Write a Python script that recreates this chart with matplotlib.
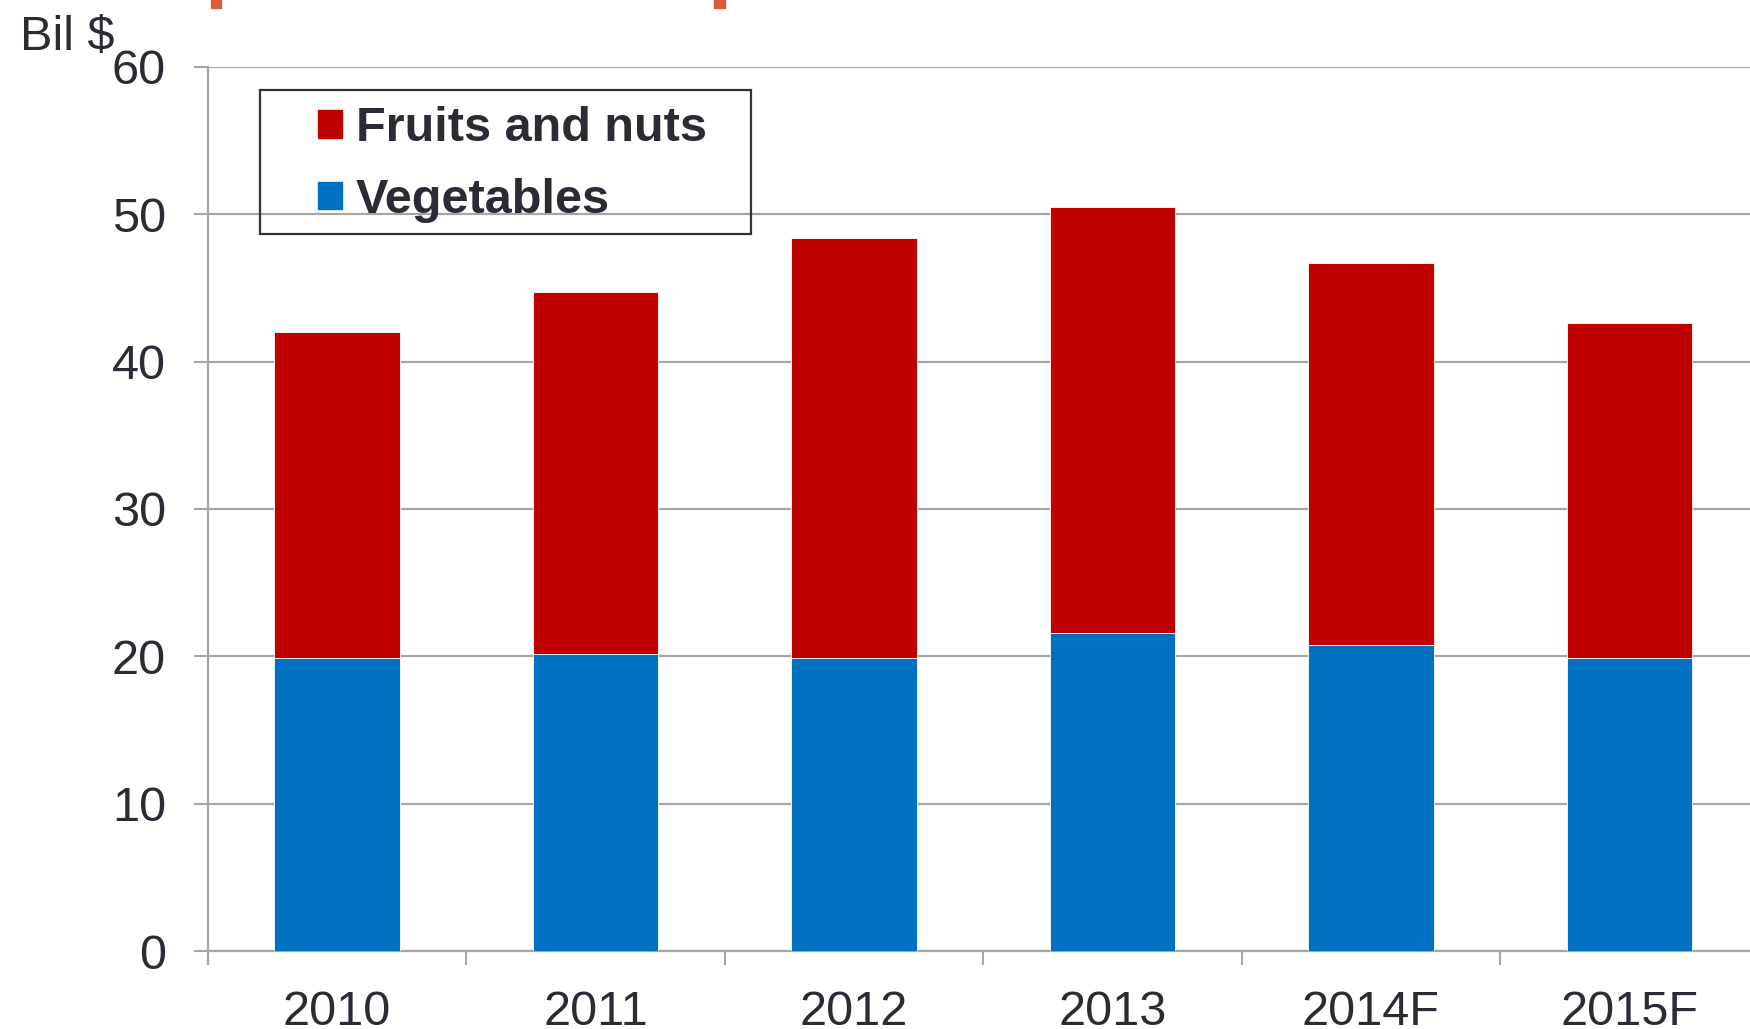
import matplotlib.pyplot as plt
from matplotlib.patches import Rectangle, Patch
import numpy as np

## data (billion $)
years = ['2010', '2011', '2012', '2013', '2014F', '2015F']
vegetables = [19.9, 20.15, 19.9, 21.6, 20.75, 19.9]
fruits_nuts = [22.1, 24.55, 28.5, 28.9, 25.95, 22.7]

red = '#C00000'
blue = '#0070C0'
txt = '#2B2B36'
grey = '#A6A6A6'

plt.rcParams['font.family'] = ['Liberation Sans', 'DejaVu Sans']

fig = plt.figure(figsize=(17.5, 10.29), dpi=100)
ax = fig.add_axes([0.1187, 0.0758, 0.8862, 0.8591])

x = np.arange(len(years))
ax.bar(x, vegetables, width=0.485, color=blue, edgecolor='white', lw=0.6, zorder=3)
ax.bar(x, fruits_nuts, width=0.485, bottom=vegetables, color=red, edgecolor='white', lw=0.6, zorder=3)

ax.set_xlim(-0.5, 5.5)
ax.set_ylim(0, 60)
ax.set_yticks(range(0, 61, 10))
ax.yaxis.grid(True, color=grey, lw=1.6, zorder=0)
ax.set_axisbelow(True)

ax.set_xticks(x)
ax.set_xticklabels(years)
ax.set_xticks(np.arange(-0.5, 6, 1), minor=True)
ax.tick_params(axis='x', which='major', length=0, pad=28, labelsize=35, labelcolor=txt)
ax.tick_params(axis='x', which='minor', length=10, width=1.5, color=grey, direction='out')
ax.tick_params(axis='y', length=10, width=1.5, color=grey, pad=20, labelsize=35, labelcolor=txt)

for s in ['top', 'right']:
    ax.spines[s].set_visible(False)
for s in ['left', 'bottom']:
    ax.spines[s].set_color(grey)
    ax.spines[s].set_linewidth(1.6)

## legend, frame drawn separately
fig.patches.append(Rectangle((260/1750, 1-234/1029), 491/1750, 144/1029,
                             transform=fig.transFigure, fill=False,
                             edgecolor='#333333', lw=1.6, zorder=5))
handles = [Patch(color=red, label='Fruits and nuts'), Patch(color=blue, label='Vegetables')]
leg = ax.legend(handles=handles, loc='upper left', bbox_to_anchor=(318/1750, 1-106/1029),
                bbox_transform=fig.transFigure, frameon=False, borderpad=0, borderaxespad=0,
                handlelength=0.5, handleheight=0.5, handletextpad=0.28, labelspacing=0.55,
                prop={'size': 35, 'weight': 'bold'})
for t in leg.get_texts():
    t.set_color(txt)

fig.text(20/1750, 1-50/1029, 'Bil $', fontsize=35, color=txt, va='baseline', ha='left')

## little orange marks at the very top
for xl, w in [(211, 10), (714, 11)]:
    fig.patches.append(Rectangle((xl/1750, 1-8/1029), w/1750, 8/1029,
                                 transform=fig.transFigure, color='#D95B3B'))

fig.savefig('out.png', dpi=100)
